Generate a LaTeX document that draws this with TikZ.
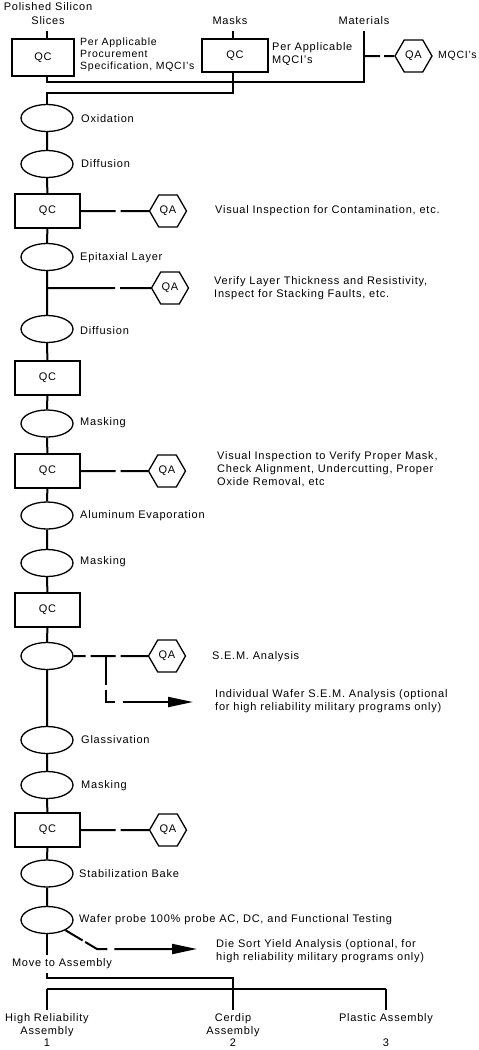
\documentclass[tikz,border=0pt]{standalone}
\usepackage{fontspec}
\setmainfont{Liberation Sans}[LetterSpace=7]
\usetikzlibrary{shapes.geometric,arrows.meta,calc}
\begin{document}
\begin{tikzpicture}[x=1pt,y=-1pt,
  every node/.style={font=\fontsize{11}{13}\selectfont, inner sep=0pt},
  qcbox/.style={draw, line width=1.3pt, minimum width=65pt, minimum height=34pt},
  proc/.style={draw, ellipse, line width=1.3pt, minimum width=52pt, minimum height=27pt},
  qahex/.style={draw, regular polygon, regular polygon sides=6, minimum size=37pt, line width=1.3pt},
  lbl/.style={anchor=west, align=left},
  toplbl/.style={align=center, inner ysep=6pt},
  botlbl/.style={align=center, inner ysep=4pt, font=\fontsize{11}{12.5}\selectfont},
  flow/.style={line width=2pt},
  bigtip/.style={-{Triangle[length=25pt,width=10pt]}}
]
\useasboundingbox (0,0) rectangle (479,1050);

% ---------- top inputs ----------
\node[toplbl] (pss) at (48,14) {Polished Silicon\\[1pt]Slices};
\node[toplbl] (masks) at (230,21) {Masks};
\node[toplbl] (mat) at (364,21) {Materials};
\node[qcbox, minimum width=62pt, minimum height=37pt] (qc1) at (43,57.5) {QC};
\node[qcbox, minimum width=66pt, minimum height=33pt] (qc2) at (235,55.5) {QC};
\node[lbl, font=\fontsize{10.5}{12}\selectfont] (t1) at (80,55) {Per Applicable\\Procurement\\Specification, MQCI's};
\node[lbl] (t2) at (272,54.5) {Per Applicable\\MQCI's};
\node[qahex] (qa0) at (413.5,56) {QA};
\node[lbl, font=\fontsize{10.5}{12}\selectfont] (t3) at (438,56) {MQCI's};

\coordinate (j1) at (47,81.7);
\coordinate (j2) at (364,81.7);
\coordinate (j3) at (233,93);
\coordinate (j4) at (47,93);
\coordinate (jm) at (364,56);

% ---------- main flow nodes ----------
\node[proc] (ox) at (47,118) {};
\node[lbl] (lox) at (81,119) {Oxidation};
\node[proc] (df1) at (47,164) {};
\node[lbl] (ldf1) at (81,164) {Diffusion};
\node[qcbox] (qc3) at (47.5,211) {QC};
\node[qahex] (qa1) at (168,211) {QA};
\node[lbl] (tqa1) at (215,211) {Visual Inspection for Contamination, etc.};
\node[proc] (ep) at (47,257) {};
\node[lbl] (lep) at (80,258) {Epitaxial Layer};
\coordinate (br1) at (47,288);
\node[qahex] (qa2) at (170,288) {QA};
\node[lbl] (tqa2) at (214,288.5) {Verify Layer Thickness and Resistivity,\\Inspect for Stacking Faults, etc.};
\node[proc] (df2) at (47,329) {};
\node[lbl] (ldf2) at (80,331) {Diffusion};
\node[qcbox] (qc4) at (47.5,378) {QC};
\node[proc] (mk1) at (47,423.5) {};
\node[lbl] (lmk1) at (80,423) {Masking};
\node[qcbox] (qc5) at (47.5,471) {QC};
\node[qahex] (qa3) at (167,471) {QA};
\node[lbl] (tqa3) at (217,469) {Visual Inspection to Verify Proper Mask,\\Check Alignment, Undercutting, Proper\\Oxide Removal, etc};
\node[proc] (al) at (47,515.5) {};
\node[lbl] (lal) at (80,516) {Aluminum Evaporation};
\node[proc] (mk2) at (47,563) {};
\node[lbl] (lmk2) at (80,562) {Masking};
\node[qcbox] (qc6) at (47.5,610) {QC};
\node[proc] (sem) at (47,656) {};
\node[qahex] (qa4) at (167,656) {QA};
\node[lbl] (tqa4) at (212,657) {S.E.M. Analysis};
\coordinate (sb1) at (106,656);
\coordinate (sb2) at (106,702);
\coordinate (semtip) at (193,702);
\node[lbl] (tsem) at (215,701.5) {Individual Wafer S.E.M. Analysis (optional\\for high reliability military programs only)};
\node[proc] (gl) at (47,740) {};
\node[lbl] (lgl) at (81,740) {Glassivation};
\node[proc] (mk3) at (47,785) {};
\node[lbl] (lmk3) at (81,786) {Masking};
\node[qcbox] (qc7) at (47.5,830) {QC};
\node[qahex] (qa5) at (168,830) {QA};
\node[proc] (sb) at (47,873.5) {};
\node[lbl] (lsb) at (79,874) {Stabilization Bake};
\node[proc] (wp) at (47,920) {};
\node[lbl] (lwp) at (79,920) {Wafer probe 100\% probe AC, DC, and Functional Testing};
\coordinate (wpd) at (97,949);
\coordinate (wptip) at (197,949);
\node[lbl] (tdie) at (216,951) {Die Sort Yield Analysis (optional, for\\high reliability military programs only)};
\node[inner ysep=4pt] (mta) at (62,964) {Move to Assembly};

% ---------- assembly ----------
\coordinate (u1) at (47,978);
\coordinate (u2) at (233,978);
\coordinate (l1) at (47,989);
\coordinate (l3) at (386,989);
\node[botlbl] (hr1) at (47,1030.5) {High Reliability\\Assembly\\1};
\node[botlbl] (hr2) at (233,1030.5) {Cerdip\\Assembly\\2};
\node[botlbl] (hr3) at (386,1030.5) {Plastic Assembly\\[12.5pt]3};

% ---------- connectors ----------
\draw[flow] (pss.south -| j1) -- (qc1.north -| j1);
\draw[flow] (qc1.south -| j1) -- (j1) -- (j2) -- (mat.south -| j2);
\draw[flow] (masks.south -| j3) -- (qc2.north -| j3);
\draw[flow] (qc2.south -| j3) -- (j3) -- (j4) -- (ox);
\draw[flow, dash pattern=on 16pt off 4pt on 40pt] (jm) -- (qa0);

\draw[flow] (ox) -- (df1) -- (qc3) -- (ep) -- (df2) -- (qc4) -- (mk1) -- (qc5) -- (al) -- (mk2) -- (qc6) -- (sem) -- (gl) -- (mk3) -- (qc7) -- (sb) -- (wp);
\draw[flow] (wp) -- (mta.north -| wp);

\draw[flow, dash pattern=on 35pt off 5pt on 40pt] (qc3) -- (qa1);
\draw[flow, dash pattern=on 68pt off 5pt on 40pt] (br1) -- (qa2);
\draw[flow, dash pattern=on 35pt off 5pt on 40pt] (qc5) -- (qa3);
\draw[flow, dash pattern=on 12pt off 5pt on 25pt off 5pt on 40pt] (sem) -- (qa4);
\draw[flow, dash pattern=on 35pt off 5pt on 40pt] (qc7) -- (qa5);
\draw[flow, bigtip, dash pattern=on 29pt off 5pt on 21pt off 8pt on 200pt] (sb1) -- (sb2) -- (semtip);
\draw[flow, bigtip, dash pattern=on 20pt off 3pt on 24pt off 7pt on 200pt] (wp.-29) -- (wpd) -- (wptip);

\draw[flow] (mta.south -| wp) -- (u1) -- (u2) -- (hr2.north -| u2);
\draw[flow] (l1) -- (l3);
\draw[flow] (l1) -- (hr1.north -| l1);
\draw[flow] (l3) -- (hr3.north -| l3);
\end{tikzpicture}
\end{document}
